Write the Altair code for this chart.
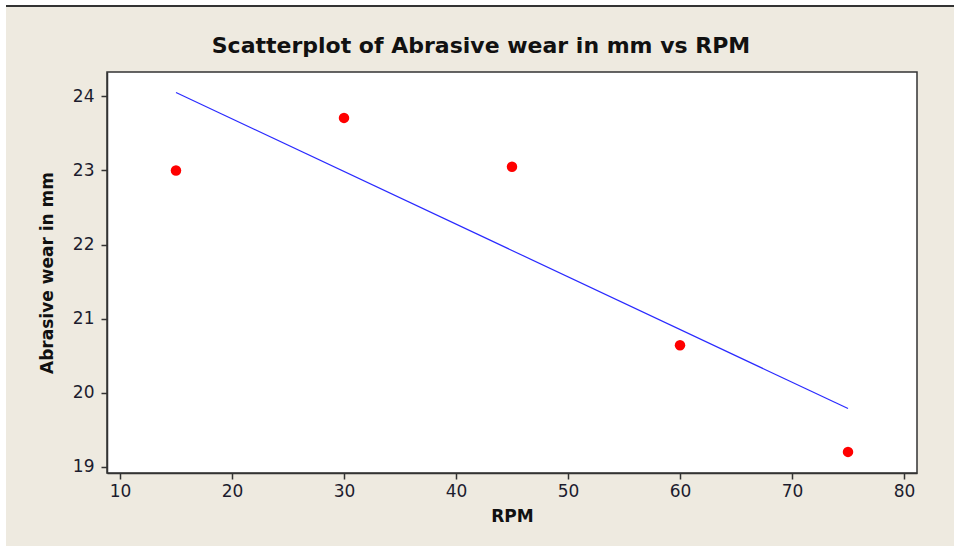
import altair as alt
import pandas as pd

# Abrasive wear measurements at each spindle speed
rpm = [15, 30, 45, 60, 75]
wear_mm = [23.0, 23.71, 23.05, 20.64, 19.2]
x_ticks = [10, 20, 30, 40, 50, 60, 70, 80]
y_ticks = [19, 20, 21, 22, 23, 24]

df = pd.DataFrame({"RPM": rpm, "Abrasive wear in mm": wear_mm})

BEIGE = "#EEEAE0"
FRAME = "#333333"

W, H = 810, 401
PAD = {"left": 107, "top": 72, "right": 954 - 107 - W, "bottom": 546 - 72 - H}

one = pd.DataFrame({"k": [0]})

x_scale = alt.Scale(domain=[8.84, 81.16], nice=False, zero=False)
y_scale = alt.Scale(domain=[18.915, 24.33], nice=False, zero=False)

# Beige panel behind everything, with a dark rule along its top edge
panel = alt.Chart(one).mark_rect(color=BEIGE).encode(
    x=alt.value(-101), x2=alt.value(W + PAD["right"]),
    y=alt.value(-65), y2=alt.value(H + PAD["bottom"]),
)
top_rule = alt.Chart(one).mark_rule(color=FRAME, strokeWidth=2).encode(
    x=alt.value(-101), x2=alt.value(W + PAD["right"]), y=alt.value(-66),
)
# White plotting region with a dark frame
plot_box = alt.Chart(one).mark_rect(fill="white", stroke=FRAME, strokeWidth=1.5).encode(
    x=alt.value(0), x2=alt.value(W), y=alt.value(0), y2=alt.value(H),
)

base = alt.Chart(df)

fit = base.transform_regression("RPM", "Abrasive wear in mm").mark_line(
    color="#2A2AFF", strokeWidth=1.2
).encode(
    x=alt.X("RPM:Q", scale=x_scale,
            axis=alt.Axis(values=x_ticks, format="d", zindex=2,
                          labelPadding=4, titlePadding=9)),
    y=alt.Y("Abrasive wear in mm:Q", scale=y_scale,
            axis=alt.Axis(values=y_ticks, format="d", zindex=2,
                          labelPadding=7, titlePadding=16)),
)

points = base.mark_point(filled=True, color="#FF0000", opacity=1, size=110, shape="circle").encode(
    x=alt.X("RPM:Q", scale=x_scale),
    y=alt.Y("Abrasive wear in mm:Q", scale=y_scale),
)

chart = alt.layer(panel, top_rule, plot_box, fit, points).properties(
    width=W,
    height=H,
    padding=PAD,
    autosize=alt.AutoSizeParams(type="none"),
    background="white",
    title=alt.TitleParams(
        "Scatterplot of Abrasive wear in mm vs RPM",
        font="DejaVu Sans", fontSize=22, fontWeight="bold", color="#111111",
        anchor="middle", baseline="alphabetic", offset=-70, dx=-31,
    ),
).configure_view(stroke=None).configure_axis(
    grid=False,
    domainColor=FRAME, domainWidth=1.5,
    tickColor=FRAME, tickWidth=1.5, tickSize=6,
    labelFont="DejaVu Sans", labelFontSize=17, labelColor="#1c1c2e",
    titleFont="DejaVu Sans", titleFontSize=17, titleFontWeight="bold", titleColor="#111111",
)

chart.save("out.html", embed_options={"renderer": "svg", "actions": False})
